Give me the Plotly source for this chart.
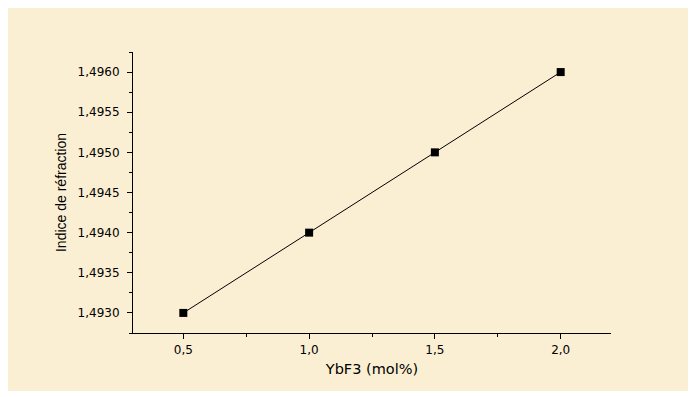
import plotly.graph_objects as go

x_vals = [0.5, 1.0, 1.5, 2.0]
y_vals = [1.4930, 1.4940, 1.4950, 1.4960]
x_ticks = [0.5, 1.0, 1.5, 2.0]
x_ticklabels = ["0,5", "1,0", "1,5", "2,0"]
y_ticks = [1.4930, 1.4935, 1.4940, 1.4945, 1.4950, 1.4955, 1.4960]
y_ticklabels = ["1,4930", "1,4935", "1,4940", "1,4945", "1,4950", "1,4955", "1,4960"]

# page body has an 8px default margin; figure drawn from (8, 8)
W, H = 686, 383
ml, mt = 125, 44
mr = W - 603
mb = H - 325

fig = go.Figure()
fig.add_trace(go.Scatter(
    x=x_vals, y=y_vals, mode="lines+markers",
    line=dict(color="black", width=1),
    marker=dict(symbol="square", size=8, color="black"),
    showlegend=False, hoverinfo="skip",
))

wide = "DejaVu Sans, Verdana, sans-serif"
arial = "Liberation Sans, Arial, sans-serif"
fig.update_layout(
    width=W, height=H,
    margin=dict(l=ml, r=mr, t=mt, b=mb),
    paper_bgcolor="rgb(251,239,211)", plot_bgcolor="rgba(0,0,0,0)",
    font=dict(family=wide, size=12, color="black"),
    xaxis=dict(
        range=[0.3, 2.2], tickvals=x_ticks, ticktext=x_ticklabels,
        showgrid=False, zeroline=False, showline=True, linecolor="black", linewidth=1,
        ticks="outside", ticklen=5, tickwidth=1, tickcolor="black",
        ticklabelstandoff=1,
        minor=dict(dtick=0.25, tick0=0.25, ticks="outside", ticklen=3, tickcolor="black", showgrid=False),
        title=dict(text="YbF3 (mol%)", font=dict(family=wide, size=14.5), standoff=7),
        tickfont=dict(family=wide, size=12),
    ),
    yaxis=dict(
        range=[1.49275, 1.49625], tickvals=y_ticks, ticktext=y_ticklabels,
        showgrid=False, zeroline=False, showline=True, linecolor="black", linewidth=1,
        ticks="outside", ticklen=5, tickwidth=1, tickcolor="black",
        ticklabelstandoff=5,
        minor=dict(dtick=0.00025, tick0=1.49275, ticks="outside", ticklen=3, tickcolor="black", showgrid=False),
        title=dict(text="Indice de réfraction", font=dict(family=arial, size=14), standoff=7),
        tickfont=dict(family=wide, size=12),
    ),
)

fig.write_html("out.html")
